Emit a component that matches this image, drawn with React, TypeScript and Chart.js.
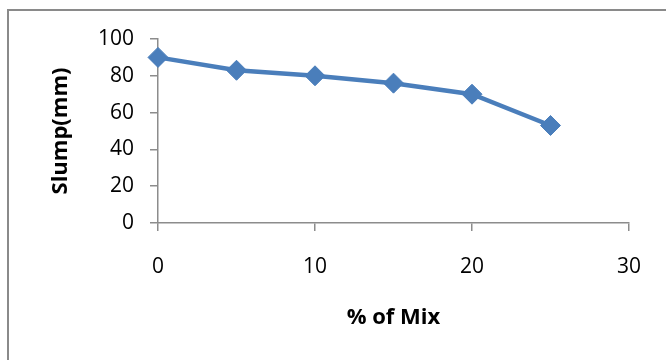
import React, { useEffect, useRef } from "react";
import { Chart, registerables } from "chart.js";

Chart.register(...registerables);

// Slump test results against mix percentage
const mixPercent = [0, 5, 10, 15, 20, 25];
const slumpMm = [90, 83, 80, 76, 70, 53];

const xTitle = "% of Mix";
const yTitle = "Slump(mm)";

const AXIS_GREY = "#8c8c8c";
const LINE_BLUE = "#4a7ebb";
const FONT = "'Open Sans', 'Noto Sans', sans-serif";

export default function App() {
  const canvasRef = useRef<HTMLCanvasElement | null>(null);

  useEffect(() => {
    const canvas = canvasRef.current;
    if (!canvas) return;
    const chart = new Chart(canvas, {
      type: "line",
      data: {
        datasets: [
          {
            label: yTitle,
            data: mixPercent.map((x, i) => ({ x, y: slumpMm[i] })),
            borderColor: LINE_BLUE,
            backgroundColor: LINE_BLUE,
            borderWidth: 4.5,
            pointStyle: "rectRot",
            pointRadius: 10,
            pointBorderWidth: 1,
            pointBackgroundColor: LINE_BLUE,
            pointBorderColor: LINE_BLUE,
            tension: 0,
            clip: false,
          },
        ],
      },
      options: {
        responsive: false,
        animation: false,
        events: [],
        layout: { padding: { left: 0, top: 39, right: 37, bottom: 0 } },
        plugins: {
          legend: { display: false },
          tooltip: { enabled: false },
        },
        scales: {
          x: {
            type: "linear",
            min: 0,
            max: 30,
            afterFit: (s: any) => {
              s.height = 137;
            },
            ticks: {
              stepSize: 10,
              color: "#000",
              padding: 23,
              font: { family: FONT, size: 21, lineHeight: 1.2 },
            },
            grid: {
              display: true,
              drawOnChartArea: false,
              drawTicks: true,
              tickLength: 8,
              color: AXIS_GREY,
              lineWidth: 1.5,
            },
            border: { display: true, color: AXIS_GREY, width: 1.5 },
            title: {
              display: true,
              text: xTitle,
              color: "#000",
              font: { family: FONT, size: 22, weight: "bold", lineHeight: 1.2 },
              padding: { top: 0, bottom: 29 },
            },
          },
          y: {
            type: "linear",
            min: 0,
            max: 100,
            afterFit: (s: any) => {
              s.width = 158;
            },
            ticks: {
              stepSize: 20,
              color: "#000",
              padding: 16,
              font: { family: FONT, size: 21, lineHeight: 1.2 },
            },
            grid: {
              display: true,
              drawOnChartArea: false,
              drawTicks: true,
              tickLength: 8,
              color: AXIS_GREY,
              lineWidth: 1.5,
            },
            border: { display: true, color: AXIS_GREY, width: 1.5 },
            title: {
              display: true,
              text: yTitle,
              color: "#000",
              font: { family: FONT, size: 22, weight: "bold", lineHeight: 1.2 },
              padding: { top: 48, bottom: 0 },
            },
          },
        },
      },
    });
    return () => chart.destroy();
  }, []);

  return (
    <div
      style={{
        position: "fixed",
        left: 0,
        top: 0,
        width: 666,
        height: 360,
        overflow: "hidden",
        background: "#fff",
      }}
    >
      <div
        style={{
          position: "absolute",
          left: 7,
          top: 9,
          width: 700,
          height: 400,
          borderLeft: "2px solid #8a8a8a",
          borderTop: "2px solid #8a8a8a",
        }}
      />
      <canvas
        ref={canvasRef}
        width={666}
        height={360}
        style={{ position: "absolute", left: 0, top: 0 }}
      />
    </div>
  );
}
